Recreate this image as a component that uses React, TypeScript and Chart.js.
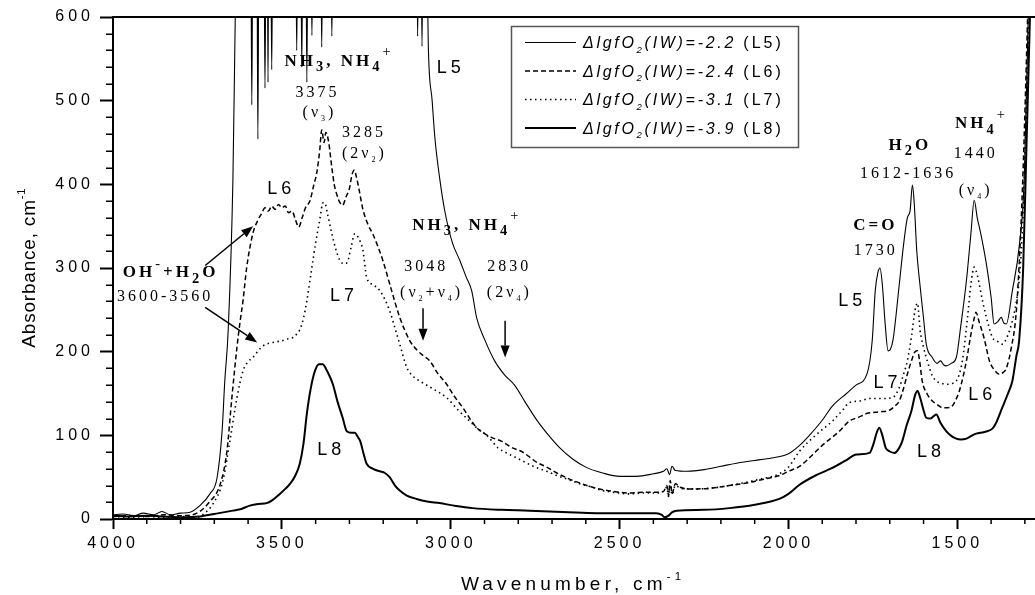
import React, { useEffect, useRef } from 'react';
import { Chart, registerables } from 'chart.js';

Chart.register(...registerables);

// ---------------- data ----------------
const xTickValues = [4000, 3500, 3000, 2500, 2000, 1500];
const yTickValues = [0, 100, 200, 300, 400, 500, 600];

const seriesNames = ['L5', 'L6', 'L7', 'L8'];
const legendLabels = [
  '\u0394lgfO_2(IW)=-2.2',
  '\u0394lgfO_2(IW)=-2.4',
  '\u0394lgfO_2(IW)=-3.1',
  '\u0394lgfO_2(IW)=-3.9',
];
const legendTags = ['(L5)', '(L6)', '(L7)', '(L8)'];

// [wavenumber, absorbance]
const l5Points: [number, number][] = [
  [4000, 5], [3970, 6], [3940, 4], [3910, 7], [3880, 5], [3855, 9], [3830, 5], [3800, 7], [3772, 8],
  [3743, 16], [3713, 30], [3692, 49], [3677, 105], [3669, 165], [3659, 225], [3645, 405], [3638, 600], [3634, 700],
  [3592, 700], [3589, 495], [3586, 700], [3574, 700], [3571, 454], [3568, 700], [3553, 700], [3550, 515], [3547, 700],
  [3543, 700], [3541, 522], [3539, 700], [3533, 700], [3530, 537], [3527, 700], [3459, 700], [3456, 560], [3453, 700],
  [3444, 700], [3441, 540], [3438, 700], [3429, 700], [3426, 522], [3423, 700], [3414, 700], [3411, 578], [3408, 700],
  [3385, 700], [3382, 564], [3379, 700], [3355, 700], [3352, 577], [3349, 700], [3101, 700], [3098, 577], [3095, 700],
  [3088, 700], [3085, 565], [3082, 700], [3072, 700], [3066, 560], [3055, 500], [3047, 456], [3033, 408], [3018, 369],
  [2995, 330], [2973, 309], [2955, 290], [2938, 273], [2923, 240], [2900, 215], [2870, 189], [2840, 172], [2811, 160],
  [2780, 140], [2743, 117], [2710, 100], [2677, 85], [2640, 72], [2600, 62], [2550, 55], [2500, 51], [2450, 51],
  [2400, 54], [2370, 57], [2360, 60], [2352, 53], [2345, 63], [2335, 58], [2300, 57], [2250, 59], [2200, 63],
  [2150, 67], [2100, 70], [2050, 73], [2000, 78], [1967, 88], [1938, 100], [1900, 118], [1870, 135], [1828, 150],
  [1800, 160], [1767, 174], [1752, 213], [1743, 273], [1735, 295], [1729, 300], [1722, 280], [1714, 235], [1705, 201],
  [1698, 203], [1690, 215], [1672, 280], [1660, 325], [1648, 360], [1640, 368], [1633, 399], [1628, 380], [1620, 320],
  [1612, 285], [1600, 240], [1592, 209], [1574, 193], [1560, 186], [1550, 189], [1540, 184], [1533, 183], [1518, 186],
  [1503, 193], [1490, 230], [1473, 285], [1460, 340], [1450, 381], [1441, 360], [1430, 340], [1414, 305], [1400, 265],
  [1391, 233], [1380, 236], [1370, 241], [1362, 234], [1355, 233], [1337, 273], [1317, 325], [1302, 405], [1290, 600],
  [1280, 750],
];

const l6Points: [number, number][] = [
  [4000, 3], [3950, 4], [3900, 3], [3850, 5], [3800, 4], [3757, 6], [3713, 21], [3683, 41], [3663, 80], [3648, 145],
  [3633, 205], [3624, 235], [3615, 261], [3604, 301], [3586, 341], [3570, 358], [3560, 365], [3550, 372], [3540, 368],
  [3530, 374], [3520, 370], [3510, 376], [3500, 372], [3490, 374], [3480, 366], [3470, 368], [3460, 358], [3450, 349],
  [3440, 360], [3430, 372], [3417, 380], [3405, 400], [3397, 413], [3388, 440], [3382, 465], [3375, 450], [3370, 462],
  [3362, 452], [3352, 420], [3345, 400], [3335, 385], [3328, 378], [3320, 375], [3310, 385], [3300, 395], [3292, 412],
  [3285, 417], [3280, 410], [3272, 395], [3260, 370], [3245, 352], [3230, 340], [3215, 325], [3201, 309], [3175, 273],
  [3151, 241], [3121, 213], [3098, 201], [3080, 195], [3062, 189], [3040, 175], [3012, 161], [2990, 147], [2964, 133],
  [2940, 118], [2923, 109], [2900, 102], [2876, 97], [2850, 93], [2817, 85], [2787, 80], [2760, 72], [2746, 68],
  [2716, 62], [2686, 55], [2650, 48], [2618, 43], [2580, 38], [2550, 35], [2500, 32], [2470, 31], [2430, 32],
  [2391, 32], [2370, 33], [2360, 40], [2355, 28], [2350, 46], [2345, 30], [2335, 42], [2320, 38], [2300, 36],
  [2272, 36], [2225, 37], [2175, 40], [2124, 43], [2080, 47], [2027, 52], [2000, 57], [1967, 63], [1938, 73],
  [1900, 88], [1849, 105], [1820, 117], [1790, 122], [1769, 126], [1730, 128], [1701, 130], [1685, 135], [1672, 141],
  [1660, 155], [1648, 173], [1635, 190], [1625, 200], [1618, 201], [1612, 190], [1604, 165], [1590, 150], [1574, 141],
  [1560, 137], [1544, 133], [1530, 133], [1515, 135], [1505, 142], [1494, 153], [1483, 170], [1473, 189], [1460, 220],
  [1450, 240], [1445, 247], [1435, 235], [1420, 215], [1405, 189], [1390, 178], [1376, 173], [1365, 175], [1355, 180],
  [1340, 205], [1326, 245], [1315, 320], [1305, 420], [1292, 600], [1280, 800],
];

const l7Points: [number, number][] = [
  [4000, 3], [3950, 2], [3900, 3], [3850, 2], [3800, 3], [3752, 2], [3720, 10], [3704, 18], [3675, 45], [3654, 93],
  [3633, 145], [3615, 177], [3600, 188], [3586, 193], [3570, 201], [3556, 207], [3527, 211], [3500, 213], [3485, 215],
  [3467, 217], [3456, 221], [3447, 226], [3436, 240], [3426, 261], [3411, 301], [3400, 330], [3388, 357], [3378, 378],
  [3373, 378], [3365, 365], [3352, 341], [3340, 322], [3328, 309], [3315, 305], [3305, 308], [3295, 325], [3284, 341],
  [3272, 335], [3260, 321], [3249, 289], [3230, 280], [3210, 273], [3181, 249], [3165, 228], [3151, 209], [3130, 181],
  [3110, 170], [3092, 165], [3050, 155], [3012, 145], [2980, 131], [2944, 117], [2920, 108], [2893, 100], [2860, 85],
  [2830, 78], [2800, 72], [2750, 62], [2716, 57], [2686, 52], [2650, 47], [2618, 42], [2580, 38], [2550, 34],
  [2500, 31], [2470, 30], [2430, 31], [2391, 31], [2370, 33], [2360, 38], [2355, 27], [2350, 44], [2345, 29],
  [2335, 40], [2320, 37], [2300, 36], [2272, 36], [2225, 37], [2175, 40], [2124, 44], [2080, 48], [2027, 54],
  [2000, 62], [1967, 81], [1920, 100], [1870, 117], [1840, 130], [1820, 139], [1790, 141], [1760, 144], [1730, 144],
  [1692, 145], [1672, 157], [1660, 172], [1648, 189], [1635, 220], [1625, 250], [1618, 258], [1610, 225], [1600, 205],
  [1589, 189], [1575, 172], [1562, 165], [1545, 162], [1533, 161], [1515, 162], [1503, 165], [1495, 172], [1485, 189],
  [1470, 240], [1460, 280], [1450, 301], [1440, 290], [1425, 260], [1410, 235], [1396, 217], [1380, 212], [1367, 209],
  [1350, 220], [1337, 237], [1325, 260], [1317, 285], [1308, 340], [1302, 405], [1288, 600], [1275, 800],
];

const l8Points: [number, number][] = [
  [4000, 4], [3950, 3], [3900, 4], [3850, 3], [3800, 2], [3743, 3], [3700, 6], [3645, 10], [3620, 12], [3595, 16],
  [3570, 18], [3545, 19], [3530, 22], [3506, 30], [3490, 36], [3476, 42], [3460, 52], [3447, 66], [3436, 90],
  [3426, 126], [3415, 155], [3402, 177], [3390, 185], [3379, 185], [3370, 180], [3360, 172], [3349, 161], [3335, 140],
  [3320, 121], [3308, 105], [3295, 103], [3284, 103], [3275, 98], [3268, 93], [3258, 78], [3249, 66], [3230, 60],
  [3210, 57], [3195, 55], [3181, 50], [3165, 40], [3151, 34], [3130, 28], [3101, 24], [3070, 21], [3033, 19],
  [2990, 16], [2935, 13], [2850, 11], [2766, 10], [2650, 8], [2568, 7], [2450, 7], [2391, 7], [2375, 5],
  [2367, 2], [2355, 4], [2345, 8], [2331, 10], [2250, 11], [2175, 13], [2100, 17], [2027, 24], [2000, 30],
  [1967, 41], [1920, 52], [1870, 61], [1830, 70], [1799, 77], [1760, 79], [1748, 90], [1738, 104], [1731, 109],
  [1722, 100], [1712, 85], [1701, 81], [1686, 79], [1672, 85], [1663, 93], [1650, 112], [1636, 129], [1625, 148],
  [1618, 153], [1610, 145], [1600, 130], [1592, 121], [1580, 120], [1570, 123], [1562, 125], [1550, 115], [1533, 105],
  [1520, 100], [1503, 96], [1490, 95], [1473, 96], [1460, 99], [1444, 102], [1420, 104], [1396, 108], [1385, 115],
  [1367, 133], [1350, 150], [1337, 165], [1325, 195], [1317, 213], [1305, 300], [1295, 450], [1285, 600], [1275, 800],
];

// text annotations anchored in data coordinates (wavenumber, absorbance) – centre / baseline
type Kind = 'chem' | 'num' | 'curve';
const annotations: { text: string; w: number; a: number; kind: Kind }[] = [
  { text: 'NH_3, NH_4^+', w: 3335, a: 542, kind: 'chem' },
  { text: '3375', w: 3399, a: 504, kind: 'num' },
  { text: '(\u03bd_3)', w: 3393, a: 481, kind: 'num' },
  { text: '3285', w: 3261, a: 456, kind: 'num' },
  { text: '(2\u03bd_2)', w: 3260, a: 432, kind: 'num' },
  { text: 'L5', w: 3006, a: 533, kind: 'curve' },
  { text: 'L6', w: 3508, a: 389, kind: 'curve' },
  { text: 'OH^-+H_2O', w: 3834, a: 289, kind: 'chem' },
  { text: '3600-3560', w: 3850, a: 260, kind: 'num' },
  { text: 'L7', w: 3322, a: 261, kind: 'curve' },
  { text: 'NH_3, NH_4^+', w: 2957, a: 346, kind: 'chem' },
  { text: '3048', w: 3077, a: 297, kind: 'num' },
  { text: '(\u03bd_2+\u03bd_4)', w: 3061, a: 265, kind: 'num' },
  { text: '2830', w: 2831, a: 297, kind: 'num' },
  { text: '(2\u03bd_4)', w: 2831, a: 265, kind: 'num' },
  { text: 'L8', w: 3360, a: 76, kind: 'curve' },
  { text: 'C=O', w: 1747, a: 345, kind: 'chem' },
  { text: '1730', w: 1746, a: 315, kind: 'num' },
  { text: 'H_2O', w: 1645, a: 441, kind: 'chem' },
  { text: '1612-1636', w: 1650, a: 407, kind: 'num' },
  { text: 'NH_4^+', w: 1433, a: 467, kind: 'chem' },
  { text: '1440', w: 1450, a: 431, kind: 'num' },
  { text: '(\u03bd_4)', w: 1450, a: 387, kind: 'num' },
  { text: 'L5', w: 1817, a: 254, kind: 'curve' },
  { text: 'L7', w: 1713, a: 156, kind: 'curve' },
  { text: 'L6', w: 1432, a: 142, kind: 'curve' },
  { text: 'L8', w: 1584, a: 74, kind: 'curve' },
];

const arrows: { from: [number, number]; to: [number, number] }[] = [
  { from: [3727, 303], to: [3585, 350] },
  { from: [3727, 253], to: [3573, 211] },
  { from: [3082, 252], to: [3082, 213] },
  { from: [2839, 237], to: [2839, 193] },
];

// ---------------- drawing helpers ----------------
type Seg = { t: string; k: 'n' | 'sub' | 'sup' };
function parseRich(s: string): Seg[] {
  const out: Seg[] = [];
  let buf = '';
  for (let i = 0; i < s.length; i++) {
    const c = s[i];
    if ((c === '_' || c === '^') && i + 1 < s.length) {
      if (buf) { out.push({ t: buf, k: 'n' }); buf = ''; }
      let t = '';
      if (s[i + 1] === '{') {
        const end = s.indexOf('}', i + 2);
        t = s.slice(i + 2, end);
        i = end;
      } else {
        t = s[i + 1];
        i++;
      }
      out.push({ t, k: c === '_' ? 'sub' : 'sup' });
    } else buf += c;
  }
  if (buf) out.push({ t: buf, k: 'n' });
  return out;
}

type RichOpts = {
  size: number; family: string; weight?: string; style?: string; ls?: number;
  subScale?: number; subDy?: number; supDy?: number; supWeight?: string; align?: 'left' | 'center';
};
function drawRich(ctx: CanvasRenderingContext2D, text: string, x: number, y: number, o: RichOpts) {
  const segs = parseRich(text);
  const ls = o.ls ?? 0;
  const font = (k: Seg['k']) => {
    const sz = k === 'n' ? o.size : o.size * (o.subScale ?? 0.6);
    const w = k === 'sup' ? (o.supWeight ?? o.weight ?? 'normal') : (o.weight ?? 'normal');
    return `${o.style ?? 'normal'} ${w} ${sz}px "${o.family}"`;
  };
  (ctx as any).letterSpacing = '0px';
  const widths = segs.map((s) => { ctx.font = font(s.k); return ctx.measureText(s.t).width + ls * s.t.length; });
  const total = widths.reduce((p, q) => p + q, 0) - ls;
  let cx = o.align === 'center' ? x - total / 2 : x;
  (ctx as any).letterSpacing = ls + 'px';
  ctx.textAlign = 'left';
  ctx.textBaseline = 'alphabetic';
  segs.forEach((s, i) => {
    ctx.font = font(s.k);
    const dy = s.k === 'sub' ? o.size * (o.subDy ?? 0.3) : s.k === 'sup' ? -o.size * (o.supDy ?? 0.45) : 0;
    ctx.fillText(s.t, cx, y + dy);
    cx += widths[i];
  });
  (ctx as any).letterSpacing = '0px';
  return total;
}

const kindStyle: Record<Kind, RichOpts> = {
  chem: { size: 17, family: 'Liberation Serif', weight: 'bold', ls: 3, subScale: 0.85, subDy: 0.32, supDy: 0.55, supWeight: 'normal', align: 'center' },
  num: { size: 16, family: 'Liberation Serif', ls: 3, subScale: 0.5, subDy: 0.25, align: 'center' },
  curve: { size: 18, family: 'Liberation Sans', ls: 4, align: 'center' },
};

const decorPlugin = {
  id: 'decor',
  beforeDraw(chart: any) {
    (chart.ctx as any).letterSpacing = '4px';
  },
  afterDraw(chart: any) {
    const ctx: CanvasRenderingContext2D = chart.ctx;
    (ctx as any).letterSpacing = '0px';
    const xs = chart.scales.x;
    const ys = chart.scales.y;
    const area = chart.chartArea;
    ctx.save();
    ctx.strokeStyle = '#000';
    ctx.fillStyle = '#000';
    ctx.setLineDash([]);

    // top frame
    ctx.lineWidth = 2;
    ctx.beginPath();
    ctx.moveTo(area.left, area.top);
    ctx.lineTo(area.right, area.top);
    ctx.stroke();

    // minor ticks
    ctx.lineWidth = 1.5;
    ctx.beginPath();
    for (let v = 20; v < 600; v += 20) {
      if (v % 100 === 0) continue;
      const py = Math.round(ys.getPixelForValue(v)) + 0.25;
      ctx.moveTo(area.left - 7, py);
      ctx.lineTo(area.left, py);
    }
    for (let w = 1300; w < 4000; w += 100) {
      if (w % 500 === 0) continue;
      const px = xs.getPixelForValue(w);
      ctx.moveTo(px, area.bottom);
      ctx.lineTo(px, area.bottom + 5);
    }
    ctx.stroke();

    // axis titles
    ctx.save();
    ctx.translate(35, (area.top + area.bottom) / 2);
    ctx.rotate(-Math.PI / 2);
    drawRich(ctx, 'Absorbance, cm^{-1}', 0, 0, { size: 19, family: 'Liberation Sans', ls: 0.8, subScale: 0.6, supDy: 0.55, align: 'center' });
    ctx.restore();
    drawRich(ctx, 'Wavenumber, cm^{-1}', (area.left + area.right) / 2 - 3, 590, { size: 19, family: 'Liberation Sans', ls: 4.2, subScale: 0.6, supDy: 0.55, align: 'center' });

    // annotations
    annotations.forEach((an) => {
      drawRich(ctx, an.text, xs.getPixelForValue(an.w), ys.getPixelForValue(an.a), kindStyle[an.kind]);
    });

    // arrows
    arrows.forEach((ar) => {
      const x1 = xs.getPixelForValue(ar.from[0]);
      const y1 = ys.getPixelForValue(ar.from[1]);
      const x2 = xs.getPixelForValue(ar.to[0]);
      const y2 = ys.getPixelForValue(ar.to[1]);
      const ang = Math.atan2(y2 - y1, x2 - x1);
      const hl = 12;
      const hw = 4.5;
      const bx = x2 - hl * Math.cos(ang);
      const by = y2 - hl * Math.sin(ang);
      ctx.lineWidth = 1.5;
      ctx.beginPath();
      ctx.moveTo(x1, y1);
      ctx.lineTo(bx, by);
      ctx.stroke();
      ctx.beginPath();
      ctx.moveTo(x2, y2);
      ctx.lineTo(bx + hw * Math.sin(ang), by - hw * Math.cos(ang));
      ctx.lineTo(bx - hw * Math.sin(ang), by + hw * Math.cos(ang));
      ctx.closePath();
      ctx.fill();
    });

    // legend
    const bx0 = 511.5, by0 = 26.5, bw = 287, bh = 121;
    ctx.fillStyle = '#fff';
    ctx.fillRect(bx0, by0, bw, bh);
    ctx.strokeStyle = '#555';
    ctx.lineWidth = 1.5;
    ctx.strokeRect(bx0, by0, bw, bh);
    ctx.fillStyle = '#000';
    chart.data.datasets.forEach((ds: any, i: number) => {
      const ly = 42.5 + i * 28.5;
      ctx.strokeStyle = '#000';
      ctx.lineWidth = ds.borderWidth;
      ctx.setLineDash(ds.borderDash || []);
      ctx.beginPath();
      ctx.moveTo(525, ly);
      ctx.lineTo(576, ly);
      ctx.stroke();
      ctx.setLineDash([]);
      const wMain = drawRich(ctx, legendLabels[i], 583, ly + 5.5, { size: 16, family: 'Liberation Sans', style: 'italic', ls: 2.7, subScale: 0.6, subDy: 0.3, align: 'left' });
      drawRich(ctx, legendTags[i], 583 + wMain + 10, ly + 5.5, { size: 16, family: 'Liberation Sans', ls: 3, align: 'left' });
    });

    ctx.restore();
  },
};

const toXY = (pts: [number, number][]) => pts.map(([x, y]) => ({ x, y }));

export default function App() {
  const ref = useRef<HTMLCanvasElement | null>(null);
  useEffect(() => {
    if (!ref.current) return;
    const styles = [
      { data: l5Points, width: 1.1, dash: [] as number[] },
      { data: l6Points, width: 1.5, dash: [5, 3] },
      { data: l7Points, width: 1.6, dash: [1.5, 3.5] },
      { data: l8Points, width: 2, dash: [] as number[] },
    ];
    const chart = new Chart(ref.current, {
      type: 'line',
      data: {
        datasets: styles.map((s, i) => ({
          label: seriesNames[i],
          data: toXY(s.data),
          borderColor: '#000',
          borderWidth: s.width,
          borderDash: s.dash,
          pointRadius: 0,
          cubicInterpolationMode: 'monotone',
          fill: false,
        })),
      },
      options: {
        animation: false,
        responsive: false,
        maintainAspectRatio: false,
        layout: { padding: { top: 17, left: 0, right: 0, bottom: 0 } },
        plugins: { legend: { display: false }, tooltip: { enabled: false } },
        scales: {
          x: {
            type: 'linear',
            reverse: true,
            min: 1270,
            max: 4000,
            afterBuildTicks: (s: any) => { s.ticks = xTickValues.map((v) => ({ value: v })); },
            afterFit: (s: any) => { s.height = 76; },
            grid: { drawOnChartArea: false, drawTicks: true, tickLength: 10, tickWidth: 2, tickColor: '#000' },
            border: { display: true, color: '#000', width: 2 },
            ticks: {
              color: '#000', padding: 5, maxRotation: 0, autoSkip: false,
              font: { family: 'Liberation Sans', size: 16 },
              callback: (v: any) => String(v),
            },
          },
          y: {
            type: 'linear',
            min: 0,
            max: 600,
            afterBuildTicks: (s: any) => { s.ticks = yTickValues.map((v) => ({ value: v })); },
            afterFit: (s: any) => { s.width = 113; },
            grid: { drawOnChartArea: false, drawTicks: true, tickLength: 13, tickWidth: 2, tickColor: '#000' },
            border: { display: true, color: '#000', width: 2 },
            ticks: {
              color: '#000', padding: 6,
              font: { family: 'Liberation Sans', size: 16 },
              callback: (v: any) => String(v),
            },
          },
        },
      } as any,
      plugins: [decorPlugin as any],
    });
    return () => chart.destroy();
  }, []);
  return (
    <div style={{ position: 'absolute', left: 0, top: 0, width: 1035, height: 595, background: '#fff' }}>
      <canvas ref={ref} width={1035} height={595} style={{ display: 'block', width: 1035, height: 595 }} />
    </div>
  );
}
